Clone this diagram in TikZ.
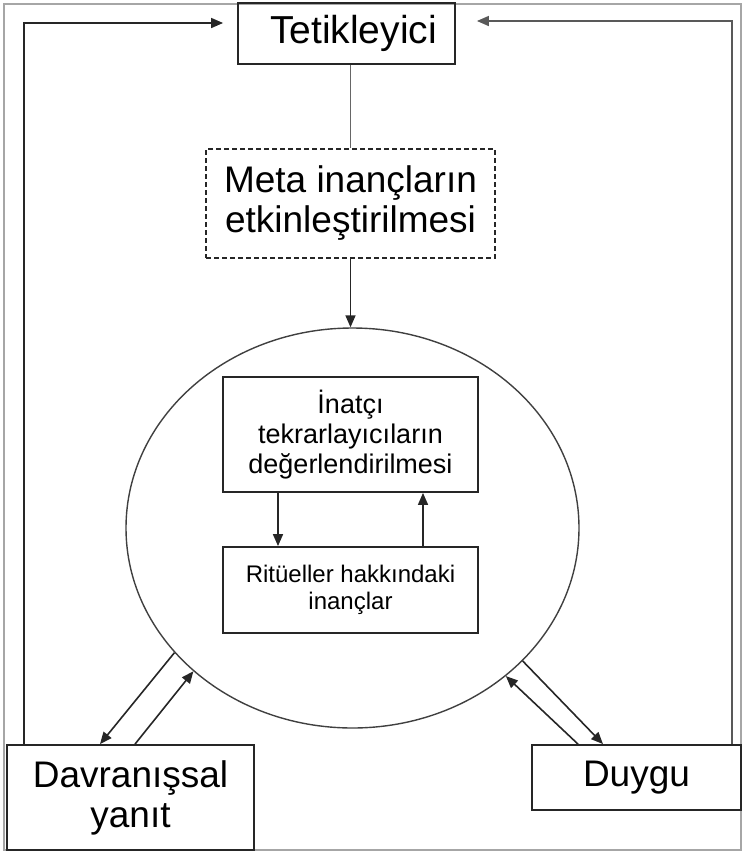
\documentclass[tikz,border=0pt]{standalone}
\usepackage{fontspec}
\setmainfont{Liberation Sans}
\usepackage{xcolor}
\usepackage{tikz}
\usetikzlibrary{shapes.geometric,arrows.meta,positioning}

\begin{document}
\begin{tikzpicture}[
    x=1pt, y=-1pt,
    block/.style={rectangle, draw, line width=1.8pt, color=black!85, text=black, align=center, inner sep=0pt},
    bigtext/.style={font=\fontsize{37}{40}\selectfont},
    midtext/.style={font=\fontsize{27}{30}\selectfont},
    smalltext/.style={font=\fontsize{24}{27}\selectfont},
    arrow/.style={->, >={Triangle[length=12pt,width=10pt]}, line width=1.6pt, color=black!85}
]
    \useasboundingbox (0,0) rectangle (742,852);
    \draw[gray!70, line width=1.8pt] (4,4) rectangle (741,850);

    % Top: trigger and meta beliefs
    \node[block, font=\fontsize{39}{42}\selectfont, minimum width=217pt, minimum height=61pt] (trig) at (346.5,33.5) {\hspace*{14pt}Tetikleyici};
    \node[block, bigtext, dash pattern=on 5pt off 3pt, line width=1.3pt, minimum width=289pt, minimum height=109pt] (meta) at (350.5,203.5) {Meta inançların\\etkinleştirilmesi};

    % Middle: the loop inside the ellipse
    \node[ellipse, draw, line width=1.4pt, color=black!75, minimum width=453pt, minimum height=400pt] (cyc) at (352.5,528) {};
    \node[block, midtext, minimum width=255pt, minimum height=115pt] (assess) at (350.5,434.5) {İnatçı\\tekrarlayıcıların\\değerlendirilmesi};
    \node[block, smalltext, minimum width=255pt, minimum height=86pt] (rit) at (350.5,590) {Ritüeller hakkındaki\\inançlar};

    % Bottom: response and emotion
    \node[block, bigtext, minimum width=247pt, minimum height=105pt] (behav) at (130.5,797.5) {Davranışsal\\yanıt};
    \node[block, bigtext, minimum width=209pt, minimum height=65pt] (emo) at (636.5,777.5) {Duygu};

    % Arrows: top
    \draw[line width=1.6pt, color=black!60] (trig.south -| meta.north) -- (meta.north);
    \draw[arrow] (meta.south) -- (meta.south |- cyc.north);
    \draw[arrow] ([xshift=-72.5pt]assess.south) -- ([xshift=-72.5pt]rit.north);
    \draw[arrow] ([xshift=72.5pt]rit.north) -- ([xshift=72.5pt]assess.south);

    % Arrows: ellipse to bottom boxes
    \draw[arrow] (cyc.215) -- ([xshift=-30.5pt]behav.north);
    \draw[arrow] ([xshift=4.5pt]behav.north) -- (cyc.222);
    \draw[arrow] (cyc.322.7) -- ([xshift=-33.5pt]emo.north);
    \draw[arrow] ([xshift=-58.5pt]emo.north) -- (cyc.316.6);

    % Arrows: back to the trigger
    \draw[arrow, shorten >=14pt] ([xshift=18pt]behav.north west) |- ([yshift=10.5pt]trig.west);
    \draw[arrow, color=black!65, shorten >=21pt] ([xshift=-10pt]emo.north east) |- ([yshift=12.5pt]trig.east);
\end{tikzpicture}
\end{document}
